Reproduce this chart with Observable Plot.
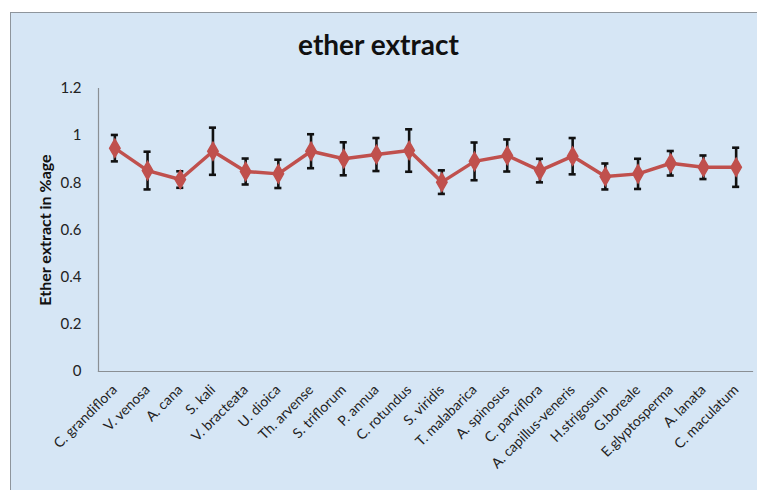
<!DOCTYPE html>
<html>
<head>
<meta charset="utf-8">
<script src="https://cdn.jsdelivr.net/npm/d3@7"></script>
<script src="https://cdn.jsdelivr.net/npm/@observablehq/plot@0.6"></script>
<style>
  html, body { margin: 0; padding: 0; background: #ffffff; }
  #wrap { position: relative; width: 757px; height: 490px; overflow: hidden; }
  #bg { position: absolute; left: 10px; top: 12px; width: 747px; height: 478px;
        background: #d6e6f5; border-left: 1.5px solid #8e959c; border-top: 1.5px solid #8e959c; box-sizing: border-box; }
  #title { position: absolute; left: 0; width: 757px; top: 27px; text-align: center; line-height: 34px;
           font-family: Lato, "Open Sans", sans-serif; font-weight: bold; font-size: 28px; color: #111; }
  #chart { position: absolute; left: 0; top: 0; }
</style>
</head>
<body>
<div id="wrap">
  <div id="bg"></div>
  <div id="chart"></div>
  <div id="title">ether extract</div>
</div>
<script>
const species = ["C. grandiflora", "V. venosa", "A. cana", "S. kali", "V. bracteata", "U. dioica",
  "Th. arvense", "S. triflorum", "P. annua", "C. rotundus", "S. viridis", "T. malabarica",
  "A. spinosus", "C. parviflora", "A. capillus-veneris", "H.strigosum", "G.boreale",
  "E.glyptosperma", "A. lanata", "C. maculatum"];
const means = [0.947, 0.852, 0.814, 0.934, 0.848, 0.838, 0.934, 0.902, 0.920, 0.937,
  0.803, 0.891, 0.916, 0.852, 0.913, 0.827, 0.838, 0.883, 0.866, 0.866];
const errors = [0.056, 0.080, 0.035, 0.100, 0.055, 0.060, 0.072, 0.070, 0.070, 0.090,
  0.050, 0.080, 0.068, 0.050, 0.077, 0.055, 0.064, 0.052, 0.050, 0.083];
const yTicks = [0, 0.2, 0.4, 0.6, 0.8, 1, 1.2];

const data = species.map((s, i) => ({name: s, v: means[i], lo: means[i] - errors[i], hi: means[i] + errors[i]}));

const chart = Plot.plot({
  width: 757,
  height: 490,
  marginLeft: 98,
  marginRight: 5,
  marginTop: 88,
  marginBottom: 119,
  style: {background: "transparent", fontFamily: "Lato, 'Open Sans', sans-serif", color: "#222"},
  x: {type: "band", domain: species, padding: 0, round: false, label: null},
  y: {domain: [0, 1.2], label: null},
  marks: [
    Plot.axisY({ticks: yTicks, tickSize: 0, tickPadding: 17, tickFormat: d => String(d), fontSize: 15, label: null}),
    Plot.axisX({tickSize: 0, tickRotate: -45, tickPadding: 16, fontSize: 14, label: null}),
    Plot.text(["Ether extract in %age"], {frameAnchor: "left", textAnchor: "middle", dx: -53, rotate: -90, fontWeight: "bold", fontSize: 16, fill: "#111"}),
    Plot.frame({anchor: "left", stroke: "#8a8f94", strokeWidth: 1.2}),
    Plot.frame({anchor: "bottom", stroke: "#8a8f94", strokeWidth: 1.2}),
    Plot.ruleX(data, {x: "name", y1: "lo", y2: "hi", stroke: "#111", strokeWidth: 2.6}),
    Plot.tickY(data, {x: "name", y: "hi", stroke: "#111", strokeWidth: 2.6, insetLeft: 12.8, insetRight: 12.8}),
    Plot.tickY(data, {x: "name", y: "lo", stroke: "#111", strokeWidth: 2.6, insetLeft: 12.8, insetRight: 12.8}),
    Plot.line(data, {x: "name", y: "v", stroke: "#c0504d", strokeWidth: 3.5}),
    Plot.dot(data, {x: "name", y: "v", symbol: "diamond", r: 5.5, fill: "#c0504d", stroke: "#c0504d"})
  ]
});
document.getElementById("chart").appendChild(chart);
</script>
</body>
</html>
